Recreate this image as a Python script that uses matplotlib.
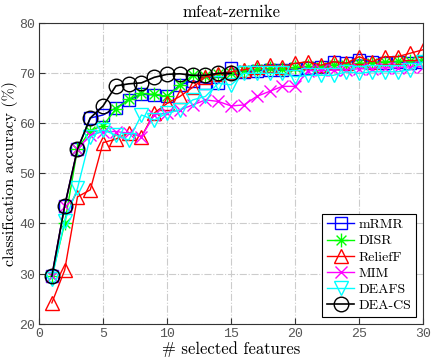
import numpy as np
import matplotlib
matplotlib.use('Agg')
import matplotlib.pyplot as plt
from matplotlib.path import Path

x_all = list(range(1, 31))
x_dea = list(range(1, 16))

mrmr = [29.5, 43.5, 54.8, 61.0, 61.6, 63.0, 64.6, 65.7, 65.6, 65.3,
        67.6, 68.4, 67.9, 67.9, 70.9, 70.2, 70.4, 70.6, 70.5, 70.8,
        71.0, 71.2, 72.2, 71.9, 72.6, 72.2, 72.0, 72.2, 71.9, 72.2]
disr = [29.5, 40.0, 54.8, 58.5, 59.5, 62.8, 64.7, 65.9, 65.7, 65.3,
        67.5, 69.5, 69.3, 69.8, 70.0, 70.5, 70.7, 70.9, 70.8, 71.1,
        71.3, 71.2, 71.6, 71.5, 71.9, 72.0, 72.2, 72.3, 72.4, 72.6]
relieff = [24.2, 30.7, 45.3, 46.7, 56.1, 56.8, 58.1, 57.3, 62.0, 63.9,
           65.3, 67.1, 69.2, 69.8, 70.2, 70.6, 71.2, 71.5, 71.2, 71.9,
           72.2, 71.5, 72.2, 71.9, 73.2, 72.2, 73.2, 73.2, 73.9, 74.6]
mim = [29.5, 43.5, 54.8, 57.6, 58.3, 58.3, 58.0, 57.3, 61.6, 62.0,
       62.6, 63.6, 64.6, 64.3, 63.4, 63.6, 65.3, 66.3, 67.3, 67.3,
       70.4, 70.5, 70.5, 70.6, 70.8, 70.8, 71.0, 71.0, 71.2, 71.2]
deafs = [29.0, 40.5, 47.0, 57.2, 58.6, 57.6, 56.6, 61.6, 60.6, 62.0,
         62.6, 64.6, 65.3, 67.9, 67.6, 69.9, 69.9, 69.9, 69.9, 69.2,
         69.5, 69.5, 69.5, 70.2, 69.9, 70.2, 70.2, 70.2, 70.6, 72.2]
deacs = [29.5, 43.5, 54.8, 61.0, 63.4, 67.4, 67.8, 68.0, 69.1, 69.7,
         69.8, 69.5, 69.5, 69.9, 69.9]

serif = 'cmr10'
plt.rcParams['axes.formatter.use_mathtext'] = True

# matlab style asterisk: + and x on top of each other
d = 0.707
asterisk = Path([(-1, 0), (1, 0), (0, -1), (0, 1), (-d, -d), (d, d), (-d, d), (d, -d)],
                [Path.MOVETO, Path.LINETO] * 4)

fig = plt.figure(figsize=(4.34, 3.64), dpi=100)
ax = fig.add_axes([0.090, 0.110, 0.885, 0.828])

ax.plot(x_all, mrmr, color='blue', marker='s', ms=8, mfc='none', lw=1, label='mRMR')
ax.plot(x_all, disr, color='#00ff00', marker=asterisk, ms=10, mfc='none', lw=1, label='DISR')
ax.plot(x_all, relieff, color='red', marker='^', ms=10, mfc='none', lw=1, label='ReliefF')
ax.plot(x_all, mim, color='magenta', marker='x', ms=8, mfc='none', lw=1, label='MIM')
ax.plot(x_all, deafs, color='cyan', marker='v', ms=10, mfc='none', lw=1, label='DEAFS')
ax.plot(x_dea, deacs, color='black', marker='o', ms=10.5, mfc='none', lw=1.2, label='DEA-CS')

ax.set_xlim(0, 30)
ax.set_ylim(20, 80)
ax.set_xticks(np.arange(0, 31, 5))
ax.set_yticks(np.arange(20, 81, 10))
ax.grid(True, color='#cccccc', linestyle='-.', lw=0.8)
ax.tick_params(direction='in', length=4, pad=2, colors='#333333', labelcolor='#555555')
for lab in ax.get_xticklabels() + ax.get_yticklabels():
    lab.set_fontfamily('Liberation Mono')
    lab.set_fontsize(9.5)
for s in ax.spines.values():
    s.set_color('#333333')

ax.set_title('mfeat-zernike', fontfamily=serif, fontsize=12, pad=4)
ax.set_xlabel('# selected features', fontfamily=serif, fontsize=12, labelpad=1)
ax.set_ylabel('classification accuracy (%)', fontfamily=serif, fontsize=11.5, labelpad=1)

leg = ax.legend(loc='lower right', prop={'family': serif, 'size': 10}, fancybox=False,
                edgecolor='black', framealpha=1, handlelength=2.0, borderpad=0.35,
                labelspacing=0.25, handletextpad=0.3, borderaxespad=0.5)
leg.get_frame().set_linewidth(0.8)

fig.savefig('out.png', dpi=100)
